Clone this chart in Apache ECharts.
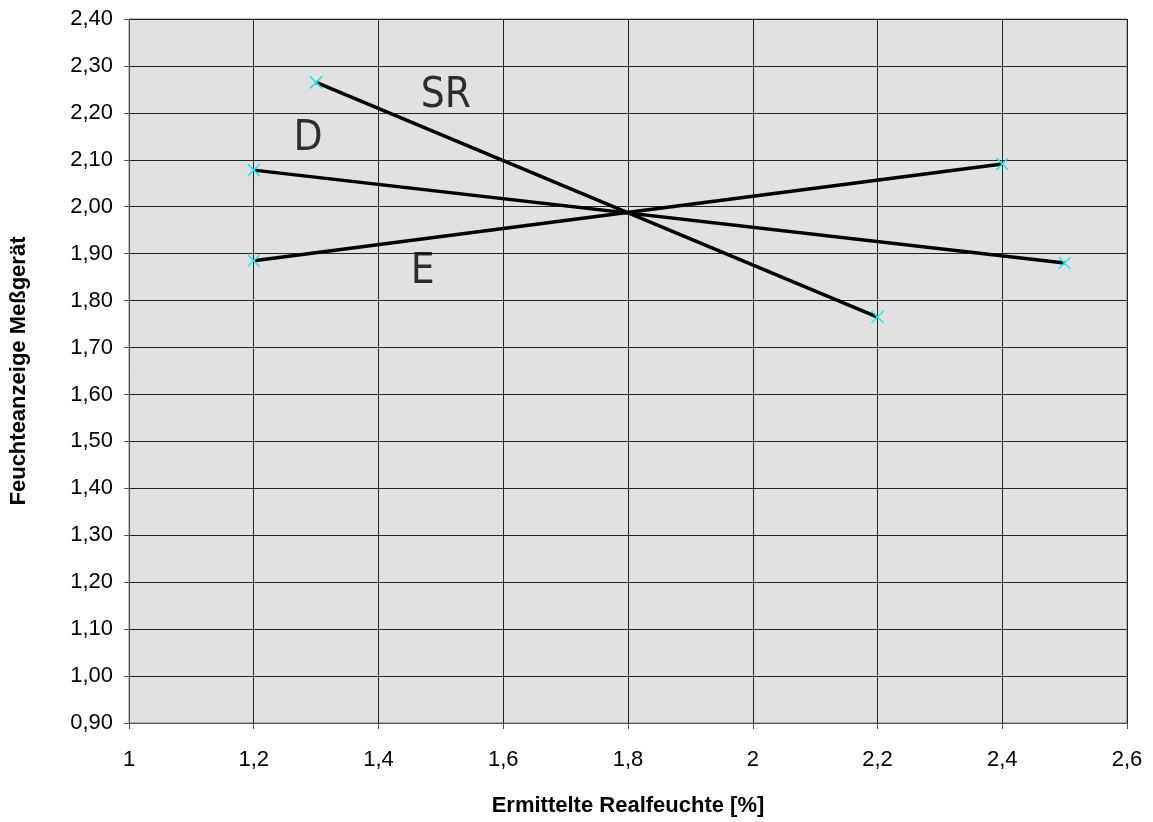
<!DOCTYPE html>
<html>
<head>
<meta charset="utf-8">
<script src="https://cdn.jsdelivr.net/npm/echarts@6/dist/echarts.min.js"></script>
<style>html,body{margin:0;padding:0;background:#fff;}#c{width:1153px;height:822px;}</style>
</head>
<body>
<div id="c"></div>
<script>
// Data
const seriesNames = ['SR', 'D', 'E'];
const srData = [[1.3, 2.265], [2.2, 1.765]];
const dData = [[1.2, 2.078], [2.5, 1.880]];
const eData = [[1.2, 1.885], [2.4, 2.091]];
const seriesLabels = [
  { text: 'SR', pos: [1.508, 2.236] },
  { text: 'D', pos: [1.287, 2.145] },
  { text: 'E', pos: [1.471, 1.860] }
];
const xTitle = 'Ermittelte Realfeuchte [%]';
const yTitle = 'Feuchteanzeige Meßgerät';

const chart = echarts.init(document.getElementById('c'), null, { renderer: 'canvas' });
const crossPath = 'path://M0,0L10,10M10,0L0,10';
const fontTick = 'Liberation Sans, Arial, sans-serif';

function lineSeries(name, data) {
  return {
    name: name,
    type: 'line',
    data: data,
    symbol: crossPath,
    symbolSize: 12,
    showSymbol: true,
    lineStyle: { color: '#000', width: 3.5 },
    itemStyle: { color: 'rgba(0,0,0,0)', borderColor: '#22e8ee', borderWidth: 1.5 },
    z: 3,
    animation: false
  };
}

const option = {
  animation: false,
  backgroundColor: '#fff',
  grid: { left: 129, top: 19, right: 26, bottom: 99, outerBoundsMode: 'none', containLabel: false,
    show: true, backgroundColor: '#e1e1e1', borderColor: '#808080', borderWidth: 1 },
  xAxis: {
    type: 'value', min: 1, max: 2.6, interval: 0.2,
    name: xTitle, nameLocation: 'middle', nameGap: 72,
    nameTextStyle: { fontFamily: fontTick, fontWeight: 'bold', fontSize: 22, color: '#000' },
    axisLine: { show: true, lineStyle: { color: '#555', width: 1 } },
    axisTick: { show: true, length: 6, lineStyle: { color: '#555' } },
    axisLabel: { margin: 26, fontFamily: fontTick, fontSize: 22, color: '#000',
      formatter: v => String(Math.round(v * 10) / 10).replace('.', ',') },
    splitLine: { show: true, lineStyle: { color: '#222', width: 1 } }
  },
  yAxis: {
    type: 'value', min: 0.9, max: 2.4, interval: 0.1,
    name: yTitle, nameLocation: 'middle', nameGap: 99, nameRotate: 90,
    nameTextStyle: { fontFamily: fontTick, fontWeight: 'bold', fontSize: 22, color: '#000' },
    axisLine: { show: true, lineStyle: { color: '#555', width: 1 } },
    axisTick: { show: true, length: 5, lineStyle: { color: '#555' } },
    axisLabel: { margin: 16, fontFamily: fontTick, fontSize: 22, color: '#000',
      formatter: v => v.toFixed(2).replace('.', ',') },
    splitLine: { show: true, lineStyle: { color: '#222', width: 1 } }
  },
  series: [
    lineSeries(seriesNames[0], srData),
    lineSeries(seriesNames[1], dData),
    lineSeries(seriesNames[2], eData),
    {
      type: 'scatter',
      data: seriesLabels.map(l => ({ value: l.pos, name: l.text })),
      symbolSize: 0,
      silent: true,
      z: 4,
      label: {
        show: true, position: 'inside',
        formatter: p => p.name,
        fontFamily: 'Liberation Sans Narrow, DejaVu Sans Condensed, sans-serif',
        fontSize: 42, fontWeight: 'normal', color: '#000'
      }
    }
  ]
};
chart.setOption(option);
</script>
</body>
</html>
